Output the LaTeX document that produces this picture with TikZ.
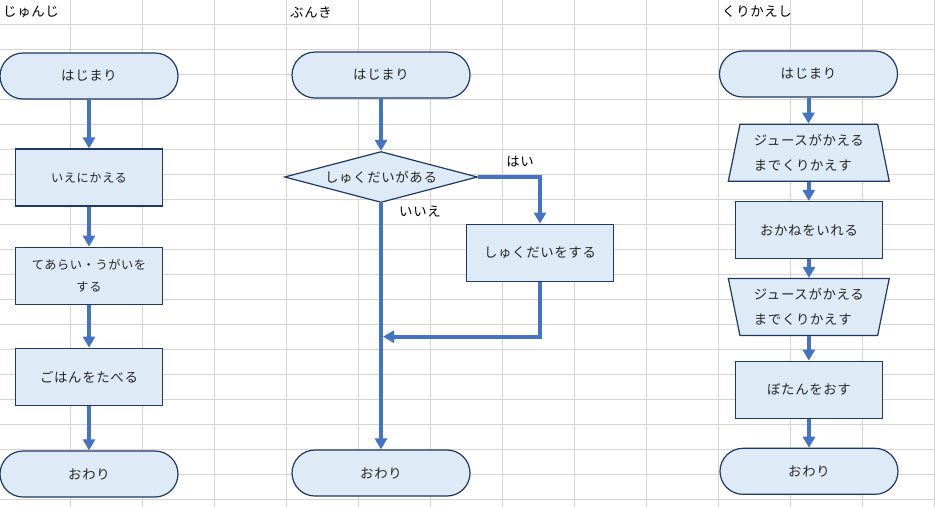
\documentclass[tikz,border=0pt]{standalone}
\usepackage{fontspec}
\setmainfont{Noto Sans CJK JP}
\newfontfamily\jpA[LetterSpace=5]{Noto Sans CJK JP}
\newfontfamily\jpB[LetterSpace=5]{Noto Sans CJK JP}
\usetikzlibrary{arrows.meta,shapes.geometric}
\definecolor{gridc}{HTML}{D4D4D4}
\definecolor{fillc}{HTML}{DEEAF6}
\definecolor{edgec}{HTML}{1F3864}
\definecolor{arrc}{HTML}{4472C4}
\definecolor{txtc}{HTML}{262626}
\tikzset{
  shp/.style={draw=edgec, fill=fillc, line width=1.2pt, inner sep=0pt, text=txtc, align=center,
    font=\jpA\fontsize{13.4}{25}\selectfont},
  term/.style={shp, rectangle, rounded corners=23pt, minimum width=178pt, minimum height=46pt},
  proc/.style={shp, rectangle, minimum width=147pt, minimum height=57pt},
  smallproc/.style={proc, font=\jpB\fontsize{12.2}{22}\selectfont},
  decide/.style={shp, diamond, aspect=3.78, minimum width=193pt, minimum height=51pt},
  trap/.style={shp, trapezium, trapezium stretches=true, trapezium left angle=76,
    trapezium right angle=76, minimum width=161pt, minimum height=57pt, align=left},
  conn/.style={draw=arrc, line width=4pt, -{Triangle[width=12pt,length=11pt]}},
  hdr/.style={anchor=west, inner sep=0pt, font=\jpA\fontsize{13.4}{16}\selectfont, text=black},
  lbl/.style={inner sep=0pt, font=\jpA\fontsize{13.4}{16}\selectfont, text=black},
}
\begin{document}
\begin{tikzpicture}[x=1pt,y=-1pt]
\useasboundingbox (0,0) rectangle (935,507);
\fill[white] (0,0) rectangle (935,507);
% grid
\foreach \k in {0,...,19} \draw[gridc, line width=1pt] (0,24.3+25*\k) -- (935,24.3+25*\k);
\foreach \k in {0,...,12} \draw[gridc, line width=1pt] (70.7+72*\k,0) -- (70.7+72*\k,507);

% headers
\node[hdr] (h1) at (3,12) {じゅんじ};
\node[hdr] (h2) at (290,12) {ぶんき};
\node[hdr] (h3) at (722,12) {くりかえし};

% column 1
\node[term] (s1) at (89,76) {はじまり};
\node[smallproc] (a1) at (89,177.5) {いえにかえる};
\node[smallproc] (a2) at (89,275.7) {てあらい・うがいを\\する};
\node[proc] (a3) at (89,376.7) {ごはんをたべる};
\node[term] (e1) at (89,474) {おわり};
\draw[conn] (s1.south) -- (a1.north);
\draw[conn] (a1.south) -- (a2.north);
\draw[conn] (a2.south) -- (a3.north);
\draw[conn] (a3.south) -- (e1.north);

% column 2
\node[term] (s2) at (381,75) {はじまり};
\node[decide] (d) at (381,177) {しゅくだいがある};
\node[proc] (b4) at (540,252.7) {しゅくだいをする};
\node[term] (e2) at (381,473) {おわり};
\coordinate (j) at (383,336.7);
\draw[conn] (s2.south) -- (d.north);
\draw[conn] (d.east) -| (b4.north);
\draw[conn] (b4.south) |- (j);
\draw[conn] (d.south) -- (e2.north);
\node[lbl] (yes) at (520,161.7) {はい};
\node[lbl] (no) at (420,211.7) {いいえ};

% column 3
\node[term] (s3) at (808.5,74) {はじまり};
\node[trap] (t1) at (808.8,152.7) {ジュースがかえる\\までくりかえす};
\node[proc] (c1) at (809,230) {おかねをいれる};
\node[trap, shape border rotate=180] (t2) at (808.8,307) {ジュースがかえる\\までくりかえす};
\node[proc] (c2) at (809,389.7) {ぼたんをおす};
\node[term] (e3) at (809,471.3) {おわり};
\draw[conn] (s3.south) -- (s3.south |- t1.north);
\draw[conn] (t1.south) -- (t1.south |- c1.north);
\draw[conn] (c1.south) -- (c1.south |- t2.north);
\draw[conn] (t2.south) -- (t2.south |- c2.north);
\draw[conn] (c2.south) -- (c2.south |- e3.north);
\end{tikzpicture}
\end{document}
